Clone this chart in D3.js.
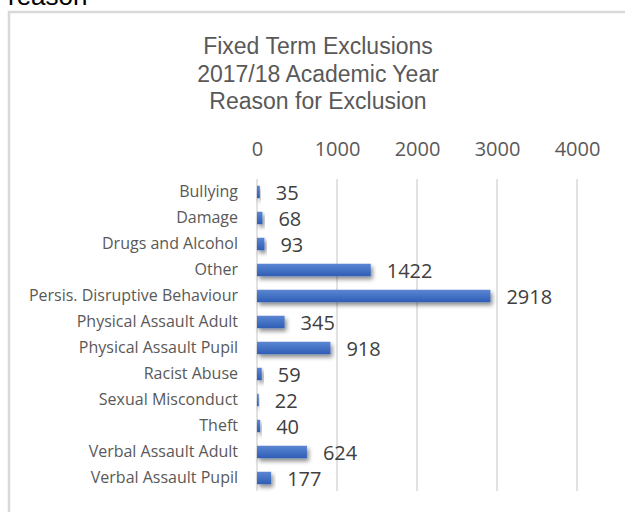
<!DOCTYPE html>
<html><head><meta charset="utf-8">
<script src="https://cdn.jsdelivr.net/npm/d3@7"></script>
<style>body{margin:0;background:#fff;}svg{display:block;}</style>
</head><body>
<script>
const categories = ["Bullying","Damage","Drugs and Alcohol","Other","Persis. Disruptive Behaviour","Physical Assault Adult","Physical Assault Pupil","Racist Abuse","Sexual Misconduct","Theft","Verbal Assault Adult","Verbal Assault Pupil"];
const values = [35,68,93,1422,2918,345,918,59,22,40,624,177];
const tickValues = [0,1000,2000,3000,4000];
const titleLines = ["Fixed Term Exclusions","2017/18 Academic Year","Reason for Exclusion"];

const W = 625, H = 512;
const svg = d3.select("body").append("svg").attr("width", W).attr("height", H);
const defs = svg.append("defs");
const grad = defs.append("linearGradient").attr("id","bg").attr("x1",0).attr("y1",0).attr("x2",0).attr("y2",1);
grad.append("stop").attr("offset","0%").attr("stop-color","#5b86d3");
grad.append("stop").attr("offset","50%").attr("stop-color","#4472c4");
grad.append("stop").attr("offset","100%").attr("stop-color","#2f5eb5");
const f = defs.append("filter").attr("id","sh").attr("x","-20%").attr("y","-50%").attr("width","150%").attr("height","250%");
f.append("feDropShadow").attr("dx",2).attr("dy",3).attr("stdDeviation",2).attr("flood-color","#000").attr("flood-opacity",0.45);

// page text cut at top
svg.append("text").attr("x",8).attr("y",5).attr("font-family","Liberation Sans, Arial").attr("font-size",26).attr("fill","#000").text("reason");

// chart border
svg.append("rect").attr("x",9).attr("y",12).attr("width",640).attr("height",520).attr("fill","#fff").attr("stroke","#d9d9d9").attr("stroke-width",2.5);

// title
svg.append("g").selectAll("text").data(titleLines).join("text")
  .attr("x",318).attr("y",(d,i)=>54+i*27.5).attr("text-anchor","middle")
  .attr("font-family","Liberation Sans, Arial").attr("font-size",23).attr("fill","#595959").text(d=>d);

const x = d3.scaleLinear().domain([0,4000]).range([257,577]);
const y = d3.scaleBand().domain(categories).range([179,491]).paddingInner(0.52).paddingOuter(0.26);

// gridlines
svg.append("g").selectAll("line").data(tickValues).join("line")
  .attr("x1",d=>x(d)).attr("x2",d=>x(d)).attr("y1",179).attr("y2",491)
  .attr("stroke","#d9d9d9").attr("stroke-width",1.5);

// top axis
const ax = svg.append("g").attr("transform","translate(0,149)")
  .call(d3.axisTop(x).tickValues(tickValues).tickSize(0).tickPadding(0).tickFormat(d3.format("d")));
ax.select(".domain").remove();
ax.selectAll("text").attr("font-family","Open Sans").attr("font-size",20).attr("fill","#595959")
  .attr("dy","0.35em");

// left axis labels
const ay = svg.append("g").attr("transform","translate(257,0)")
  .call(d3.axisLeft(y).tickSize(0).tickPadding(19));
ay.select(".domain").remove();
ay.selectAll("text").attr("font-family","Open Sans").attr("font-size",16).attr("fill","#595959");

// bars
svg.append("g").selectAll("rect").data(values).join("rect")
  .attr("x",x(0)).attr("y",(d,i)=>y(categories[i])).attr("width",d=>Math.max(1,x(d)-x(0)))
  .attr("height",y.bandwidth()).attr("fill","url(#bg)").attr("filter","url(#sh)");

// value labels
svg.append("g").selectAll("text").data(values).join("text")
  .attr("x",d=>x(d)+16).attr("y",(d,i)=>y(categories[i])+y.bandwidth()/2+1).attr("dy","0.35em")
  .attr("font-family","Open Sans").attr("font-size",20).attr("fill","#404040").text(d=>d);
</script>
</body></html>
